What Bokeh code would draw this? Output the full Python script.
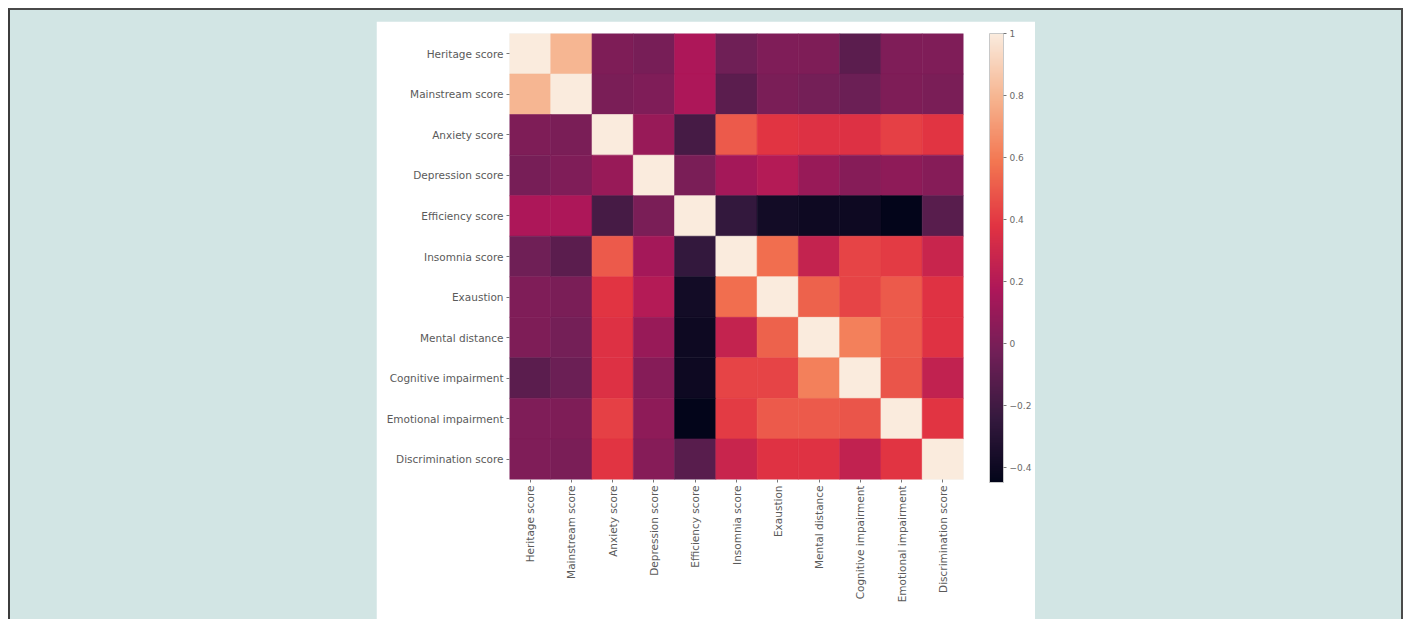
import math
from bokeh.plotting import figure
from bokeh.models import ColumnDataSource, LinearColorMapper, ColorBar, FixedTicker, Spacer, FactorRange
from bokeh.layouts import row, column
from bokeh.embed import file_html
from bokeh.resources import INLINE

labels = ["Heritage score", "Mainstream score", "Anxiety score", "Depression score",
          "Efficiency score", "Insomnia score", "Exaustion", "Mental distance",
          "Cognitive impairment", "Emotional impairment", "Discrimination score"]

heritage       = [1.00, 0.80, 0.01, -0.01, 0.17, -0.04, 0.02, 0.01, -0.11, 0.02, 0.02]
mainstream     = [0.80, 1.00, 0.00, 0.02, 0.17, -0.11, 0.00, -0.02, -0.05, 0.01, 0.00]
anxiety        = [0.01, 0.00, 1.00, 0.10, -0.18, 0.50, 0.38, 0.36, 0.36, 0.42, 0.38]
depression     = [-0.01, 0.02, 0.10, 1.00, 0.00, 0.14, 0.20, 0.10, 0.04, 0.07, 0.04]
efficiency     = [0.17, 0.17, -0.18, 0.00, 1.00, -0.25, -0.38, -0.40, -0.40, -0.45, -0.12]
insomnia       = [-0.04, -0.11, 0.50, 0.14, -0.25, 1.00, 0.56, 0.26, 0.43, 0.40, 0.28]
exaustion      = [0.02, 0.00, 0.38, 0.20, -0.38, 0.56, 1.00, 0.52, 0.43, 0.50, 0.37]
mental         = [0.01, -0.02, 0.36, 0.10, -0.40, 0.26, 0.52, 1.00, 0.62, 0.50, 0.37]
cognitive      = [-0.11, -0.05, 0.36, 0.04, -0.40, 0.43, 0.43, 0.62, 1.00, 0.48, 0.25]
emotional      = [0.02, 0.01, 0.42, 0.07, -0.45, 0.40, 0.50, 0.50, 0.48, 1.00, 0.38]
discrimination = [0.02, 0.00, 0.38, 0.04, -0.12, 0.28, 0.37, 0.37, 0.25, 0.38, 1.00]

rows_data = [heritage, mainstream, anxiety, depression, efficiency, insomnia,
             exaustion, mental, cognitive, emotional, discrimination]

cbar_ticks = [-0.4, -0.2, 0, 0.2, 0.4, 0.6, 0.8, 1]
cbar_tick_labels = ["\u22120.4", "\u22120.2", "0", "0.2", "0.4", "0.6", "0.8", "1"]

# rocket-like colormap
anchors = [(0.0, "#03051a"), (1/7, "#35193e"), (2/7, "#701f57"), (3/7, "#ad1759"),
           (4/7, "#e13342"), (5/7, "#f37651"), (6/7, "#f6b48f"), (1.0, "#faebdd")]

def hex2rgb(h):
    return tuple(int(h[i:i+2], 16) for i in (1, 3, 5))

palette = []
for i in range(256):
    t = i / 255
    for (t0, c0), (t1, c1) in zip(anchors[:-1], anchors[1:]):
        if t0 <= t <= t1:
            f = (t - t0) / (t1 - t0)
            a, b = hex2rgb(c0), hex2rgb(c1)
            rgb = [round(a[k] + (b[k] - a[k]) * f) for k in range(3)]
            palette.append("#%02x%02x%02x" % tuple(rgb))
            break

xs, ys, vals = [], [], []
for r, rowvals in zip(labels, rows_data):
    for c, v in zip(labels, rowvals):
        xs.append(c)
        ys.append(r)
        vals.append(v)

src = ColumnDataSource(dict(x=xs, y=ys, v=vals))
vmin = min(vals)
mapper = LinearColorMapper(palette=palette, low=vmin, high=1.0)

p = figure(width=659, height=598, x_range=FactorRange(*labels),
           y_range=FactorRange(*labels[::-1]), output_backend="svg",
           toolbar_location=None, min_border_left=133, min_border_top=12,
           min_border_bottom=140, min_border_right=72)
p.rect(x="x", y="y", width=1, height=1, source=src,
       fill_color={"field": "v", "transform": mapper},
       line_color={"field": "v", "transform": mapper}, line_width=0.6)

p.background_fill_color = "white"
p.border_fill_color = "white"
p.outline_line_color = None
p.grid.grid_line_color = None
for ax in (p.xaxis[0], p.yaxis[0]):
    ax.axis_line_color = None
    ax.major_tick_line_color = "#777"
    ax.major_tick_out = 3
    ax.major_tick_in = 0
    ax.major_label_text_font = "DejaVu Sans"
    ax.major_label_text_font_size = "10.5px"
    ax.major_label_text_color = "#5a5a5a"
    ax.major_label_standoff = 3
p.xaxis.major_label_orientation = math.pi / 2

cb = ColorBar(color_mapper=mapper, ticker=FixedTicker(ticks=cbar_ticks),
              major_label_overrides={t: l for t, l in zip(cbar_ticks, cbar_tick_labels)},
              width=14, height=449, padding=0, margin=0, location=(26, -3),
              major_label_text_font="DejaVu Sans", major_label_text_font_size="9px",
              major_label_text_color="#6a6a6a", major_tick_line_color="#777",
              major_tick_out=3, major_tick_in=0, label_standoff=3,
              bar_line_color="#c8c8c8", border_line_color=None,
              background_fill_color=None, minor_tick_line_color=None)
p.add_layout(cb, "right")

inner = row(Spacer(width=366, height=598), p, Spacer(width=366, height=598))
page = column(Spacer(width=1391, height=11), inner,
              styles={"background-color": "#d2e5e4",
                      "margin-left": "8px", "margin-top": "8px",
                      "border-left": "2px solid #3c3c3c",
                      "border-top": "2px solid #4a4a4a",
                      "border-right": "2px solid #4a4a4a"})

open("out.html", "w").write(file_html(page, INLINE))
